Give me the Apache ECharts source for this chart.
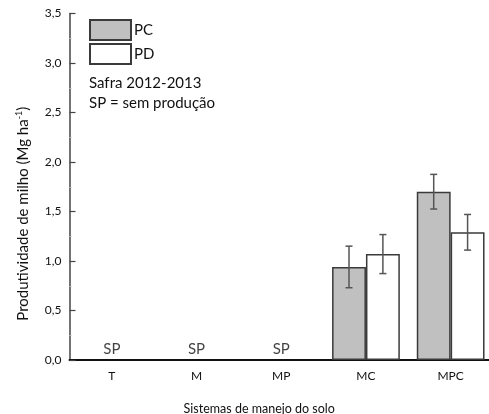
<!DOCTYPE html>
<html><head><meta charset="utf-8">
<script src="https://cdn.jsdelivr.net/npm/echarts@6/dist/echarts.min.js"></script>
<style>html,body{margin:0;padding:0;background:#fff}#c{width:489px;height:414px}</style>
</head><body><div id="c"></div>
<script>
var categories = ['T', 'M', 'MP', 'MC', 'MPC'];
var pcValues = [null, null, null, 0.94, 1.70];
var pdValues = [null, null, null, 1.07, 1.29];
var pcErrors = [null, null, null, 0.21, 0.175];
var pdErrors = [null, null, null, 0.197, 0.18];
var spMarks = [0, 0, 0, null, null];
var FONT = 'Lato';

var chart = echarts.init(document.getElementById('c'), null, {renderer: 'canvas'});

function errSeries(name, vals, errs, sign) {
  var data = [];
  for (var i = 0; i < categories.length; i++) {
    if (vals[i] != null) data.push([i, vals[i], errs[i]]);
  }
  return {
    type: 'custom', name: name + '_err', z: 10, silent: true,
    data: data,
    renderItem: function (params, api) {
      var ci = api.value(0), v = api.value(1), e = api.value(2);
      var band = api.size([1, 0])[0];
      var off = sign * band * 0.8 / 4;
      var top = api.coord([ci, v + e]);
      var bot = api.coord([ci, v - e]);
      var x = top[0] + off;
      var cap = 3.5;
      var st = {stroke: '#555', lineWidth: 1.5};
      return {type: 'group', children: [
        {type: 'line', shape: {x1: x, y1: top[1], x2: x, y2: bot[1]}, style: st},
        {type: 'line', shape: {x1: x - cap, y1: top[1], x2: x + cap, y2: top[1]}, style: st},
        {type: 'line', shape: {x1: x - cap, y1: bot[1], x2: x + cap, y2: bot[1]}, style: st}
      ]};
    }
  };
}

chart.setOption({
  animation: false,
  textStyle: {fontFamily: FONT},
  grid: {left: 69.5, right: -4, top: 13.5, bottom: 54, containLabel: false, outerBoundsMode: 'none'},
  legend: {
    data: [{name: 'PC', icon: 'rect'}, {name: 'PD', icon: 'rect'}],
    orient: 'vertical', left: 89, top: 19, padding: 0,
    itemWidth: 41, itemHeight: 20, itemGap: 2,
    textStyle: {fontFamily: FONT, fontSize: 15, lineHeight: 20, color: '#111', padding: [0, 0, 0, -2]},
    selectedMode: false
  },
  graphic: [
    {type: 'text', left: 89, top: 76, style: {text: 'Safra 2012-2013', font: '15px ' + FONT, fill: '#111'}},
    {type: 'text', left: 89, top: 96, style: {text: 'SP = sem produção', font: '15px ' + FONT, fill: '#111'}}
  ],
  xAxis: {
    type: 'category', data: categories,
    name: 'Sistemas de manejo do solo', nameLocation: 'middle', nameGap: 42,
    nameTextStyle: {fontFamily: FONT, fontSize: 12.5, color: '#111', padding: [0, 44, 0, 0]},
    axisLine: {lineStyle: {color: '#111', width: 2}},
    axisTick: {alignWithLabel: true, length: 5, lineStyle: {color: '#111', width: 1.5}},
    axisLabel: {fontFamily: FONT, fontSize: 12, color: '#111', margin: 10},
    splitLine: {show: false}
  },
  yAxis: {
    type: 'value', min: 0, max: 3.5, interval: 0.5,
    name: '{n|Produtividade de milho (Mg ha}{s|-1}{n|)}', nameLocation: 'middle', nameGap: 38,
    nameTextStyle: {padding: [0, 0, 0, -54], rich: {
      n: {fontFamily: FONT, fontSize: 15, color: '#111'},
      s: {fontFamily: FONT, fontSize: 9, color: '#111', verticalAlign: 'top', padding: [0, 0, 8, 0]}
    }},
    axisLine: {show: true, lineStyle: {color: '#444', width: 1.5}},
    axisTick: {show: true, inside: true, length: 6, lineStyle: {color: '#444', width: 1.2}},
    minorTick: {show: true, splitNumber: 2, length: 2, lineStyle: {color: '#bbb'}},
    axisLabel: {fontFamily: FONT, fontSize: 12, color: '#111', margin: 8,
      formatter: function (v) { return v.toFixed(1).replace('.', ','); }},
    splitLine: {show: false}
  },
  series: [
    {name: 'PC', type: 'bar', data: pcValues, barGap: '0%', barCategoryGap: '20%',
     itemStyle: {color: '#c0c0c0', borderColor: '#3a3a3a', borderWidth: 1.5}},
    {name: 'PD', type: 'bar', data: pdValues, barGap: '0%', barCategoryGap: '20%',
     itemStyle: {color: '#ffffff', borderColor: '#3a3a3a', borderWidth: 1.5}},
    errSeries('PC', pcValues, pcErrors, -1),
    errSeries('PD', pdValues, pdErrors, 1),
    {name: 'SP', type: 'scatter', data: spMarks, symbolSize: 0, silent: true,
     label: {show: true, position: 'top', distance: 3, formatter: 'SP',
       fontFamily: FONT, fontSize: 15, color: '#111'}}
  ]
});
</script></body></html>
